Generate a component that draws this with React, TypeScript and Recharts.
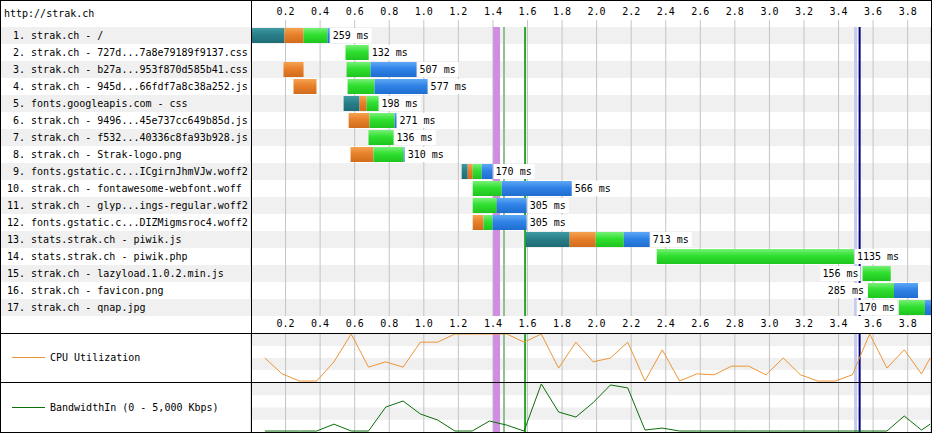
import React from "react";
import {
  Bar,
  CartesianGrid,
  ComposedChart,
  LabelList,
  Line,
  LineChart,
  ReferenceArea,
  ReferenceLine,
  XAxis,
  YAxis,
} from "recharts";

const FONT = "'DejaVu Sans Mono', monospace";
const STRIPE = "#f0f0f0";
const GRID = "#c4c4c4";
const END = 3.935;

const TICKS = [0.2, 0.4, 0.6, 0.8, 1.0, 1.2, 1.4, 1.6, 1.8, 2.0, 2.2, 2.4, 2.6, 2.8, 3.0, 3.2, 3.4, 3.6, 3.8];

const requestLabels = [
  " 1. strak.ch - /",
  " 2. strak.ch - 727d...7a8e79189f9137.css",
  " 3. strak.ch - b27a...953f870d585b41.css",
  " 4. strak.ch - 945d...66fdf7a8c38a252.js",
  " 5. fonts.googleapis.com - css",
  " 6. strak.ch - 9496...45e737cc649b85d.js",
  " 7. strak.ch - f532...40336c8fa93b928.js",
  " 8. strak.ch - Strak-logo.png",
  " 9. fonts.gstatic.c...ICgirnJhmVJw.woff2",
  "10. strak.ch - fontawesome-webfont.woff",
  "11. strak.ch - glyp...ings-regular.woff2",
  "12. fonts.gstatic.c...DIZMigmsroc4.woff2",
  "13. stats.strak.ch - piwik.js",
  "14. stats.strak.ch - piwik.php",
  "15. strak.ch - lazyload.1.0.2.min.js",
  "16. strak.ch - favicon.png",
  "17. strak.ch - qnap.jpg",
];

// seconds; rows without dns/connect repeat the ttfb start
const groupStart = [0, 0.547, 0.188, 0.246, 0.536, 0.565, 0.68, 0.576, 1.219, 1.283, 1.283, 1.283, 1.59, 2.348, 3.539, 3.57, 3.749];
const dnsEnd = [0.194, 0.547, 0.188, 0.246, 0.628, 0.565, 0.68, 0.576, 1.254, 1.283, 1.283, 1.283, 1.844, 2.348, 3.539, 3.57, 3.749];
const connectEnd = [0.304, 0.547, 0.304, 0.379, 0.669, 0.686, 0.68, 0.709, 1.283, 1.283, 1.283, 1.346, 1.995, 2.348, 3.539, 3.57, 3.749];
const ttfbStart = [0.304, 0.547, 0.553, 0.559, 0.669, 0.686, 0.68, 0.709, 1.283, 1.283, 1.283, 1.346, 1.995, 2.348, 3.539, 3.57, 3.749];
const ttfbEnd = [0.443, 0.681, 0.692, 0.715, 0.738, 0.831, 0.825, 0.883, 1.335, 1.451, 1.422, 1.398, 2.157, 3.489, 3.702, 3.721, 3.9];
const downloadEnd = [0.455, 0.681, 0.958, 1.022, 0.738, 0.842, 0.825, 0.889, 1.398, 1.856, 1.595, 1.595, 2.307, 3.489, 3.702, 3.86, 3.935];
const durations = [259, 132, 507, 577, 198, 271, 136, 310, 170, 566, 305, 305, 713, 1135, 156, 285, 170];
const labelLeft = [false, false, false, false, false, false, false, false, false, false, false, false, false, false, true, true, true];

const eventAreas = [
  { from: 1.401, to: 1.441, color: "#d08ee0" },
  { from: 3.49, to: 3.507, color: "#c4caf0" },
];
const eventLines = [
  { at: 1.464, color: "#92c092" },
  { at: 1.586, color: "#28a828" },
  { at: 3.522, color: "#000080" },
];

const sampleTimes = [
  0.08, 0.18, 0.28, 0.38, 0.48, 0.58, 0.68, 0.78, 0.88, 0.98, 1.08, 1.18, 1.28, 1.38, 1.48, 1.58, 1.68, 1.78, 1.88, 1.98,
  2.08, 2.18, 2.28, 2.38, 2.48, 2.58, 2.68, 2.78, 2.88, 2.98, 3.08, 3.18, 3.28, 3.38, 3.48, 3.58, 3.68, 3.78, 3.88, 3.93,
];
const cpuValues = [
  50, 17, 2, 2, 42, 100, 31, 42, 31, 83, 83, 100, 100, 100, 100, 83, 100, 29, 83, 42,
  50, 83, 2, 67, 2, 17, 15, 33, 33, 15, 50, 15, 2, 2, 15, 100, 29, 67, 17, 50,
];
const bandwidthValues = [
  100, 100, 100, 100, 800, 100, 100, 2550, 3160, 1840, 1220, 100, 100, 1120, 700, 100, 4900, 2040, 1530, 3000,
  4800, 4500, 200, 400, 100, 100, 100, 100, 100, 100, 100, 100, 100, 100, 100, 100, 100, 1630, 200, 800,
];

const rows = requestLabels.map((label, i) => ({
  label,
  gap0: groupStart[i],
  dns: dnsEnd[i] - groupStart[i],
  connect: connectEnd[i] - dnsEnd[i],
  gap1: ttfbStart[i] - connectEnd[i],
  ttfb: ttfbEnd[i] - ttfbStart[i],
  download: downloadEnd[i] - ttfbEnd[i],
}));

const cpuData = sampleTimes.map((t, i) => ({ t, v: cpuValues[i] }));
const bwData = sampleTimes.map((t, i) => ({ t, v: bandwidthValues[i] }));

const textStyle = { fontFamily: FONT, fontSize: 10, fill: "#000" };

function RowTick(props: any) {
  const { y, payload, index } = props;
  const half = payload && payload.offset > 0 ? payload.offset : 8.5;
  return (
    <g>
      {index % 2 === 0 && <rect x={1} y={y - half} width={250} height={half * 2} fill={STRIPE} />}
      <text x={7} y={y} dy="0.35em" style={{ whiteSpace: "pre" }} {...textStyle}>
        {payload.value}
      </text>
    </g>
  );
}

function DurationLabel(props: any) {
  const idx = props.index;
  const vb = props.viewBox ?? props;
  const x = Number(vb.x);
  const y = Number(vb.y);
  const w = Number(vb.width);
  const h = Number(vb.height);
  const row = rows[idx];
  if (!row) return null;
  const text = `${durations[idx]} ms`;
  const tw = text.length * 6.02;
  const cy = y + h / 2;
  if (labelLeft[idx]) {
    const end = x - 4;
    return (
      <g>
        <rect x={end - tw - 2} y={y} width={tw + 4} height={h} fill="#fff" />
        <text x={end} y={cy} dy="0.35em" textAnchor="end" {...textStyle}>
          {text}
        </text>
      </g>
    );
  }
  const pxPerSec = w / row.ttfb;
  const barEnd = x + w + row.download * pxPerSec;
  return (
    <g>
      <rect x={barEnd + 1} y={y} width={tw + 5} height={h} fill="#fff" />
      <text x={barEnd + 3} y={cy} dy="0.35em" {...textStyle}>
        {text}
      </text>
    </g>
  );
}

function eventMarks(xAxisId?: string) {
  const axis = xAxisId ? { xAxisId } : {};
  return [
    ...eventAreas.map((e) => (
      <ReferenceArea key={`a${e.from}`} {...axis} x1={e.from} x2={e.to} fill={e.color} fillOpacity={1} stroke="none" zIndex={-60} />
    )),
    ...eventLines.map((e) => (
      <ReferenceLine key={`l${e.at}`} {...axis} x={e.at} stroke={e.color} strokeWidth={2} zIndex={-60} />
    )),
  ];
}

function Gradient({ id, top, mid, bottom }: { id: string; top: string; mid: string; bottom: string }) {
  return (
    <linearGradient id={id} x1="0" y1="0" x2="0" y2="1">
      <stop offset="0%" stopColor={top} />
      <stop offset="45%" stopColor={mid} />
      <stop offset="100%" stopColor={bottom} />
    </linearGradient>
  );
}

function Waterfall() {
  return (
    <ComposedChart
      layout="vertical"
      width={932}
      height={333}
      data={rows}
      margin={{ top: 0, right: 1, bottom: 0, left: 0 }}
      barCategoryGap={1}
    >
      <defs>
        <Gradient id="gDns" top="#3f9aa4" mid="#2a7f89" bottom="#1e6c75" />
        <Gradient id="gConn" top="#f5a352" mid="#e8802a" bottom="#d06c1c" />
        <Gradient id="gTtfb" top="#78f078" mid="#2fe02f" bottom="#1fc41f" />
        <Gradient id="gDl" top="#5ea8f6" mid="#2f82e6" bottom="#1f6ecf" />
      </defs>
      <XAxis
        xAxisId="top"
        orientation="top"
        type="number"
        domain={[0, END]}
        allowDataOverflow
        ticks={TICKS}
        tickFormatter={(v) => Number(v).toFixed(1)}
        height={27}
        tickSize={7}
        tickMargin={5}
        axisLine={false}
        tickLine={{ stroke: GRID }}
        tick={textStyle}
      />
      <XAxis
        xAxisId="bottom"
        orientation="bottom"
        type="number"
        domain={[0, END]}
        allowDataOverflow
        ticks={TICKS}
        tickFormatter={(v) => Number(v).toFixed(1)}
        height={17}
        tickSize={0}
        tickMargin={4}
        axisLine={false}
        tickLine={false}
        tick={textStyle}
      />
      <YAxis type="category" dataKey="label" width={251} interval={0} axisLine={false} tickLine={false} tick={<RowTick />} />
      {requestLabels
        .filter((_, i) => i % 2 === 0)
        .map((l) => (
          <ReferenceArea key={l} xAxisId="top" y1={l} y2={l} fill={STRIPE} fillOpacity={1} stroke="none" zIndex={-150} />
        ))}
      <CartesianGrid xAxisId="top" horizontal={false} stroke={GRID} />
      {eventMarks("top")}
      <Bar xAxisId="top" dataKey="gap0" stackId="w" fill="transparent" barSize={15} isAnimationActive={false} />
      <Bar xAxisId="top" dataKey="dns" stackId="w" fill="url(#gDns)" barSize={15} isAnimationActive={false} />
      <Bar xAxisId="top" dataKey="connect" stackId="w" fill="url(#gConn)" barSize={15} isAnimationActive={false} />
      <Bar xAxisId="top" dataKey="gap1" stackId="w" fill="transparent" barSize={15} isAnimationActive={false} />
      <Bar xAxisId="top" dataKey="ttfb" stackId="w" fill="url(#gTtfb)" barSize={15} isAnimationActive={false}>
        <LabelList dataKey="ttfb" content={DurationLabel} />
      </Bar>
      <Bar xAxisId="top" dataKey="download" stackId="w" fill="url(#gDl)" barSize={15} isAnimationActive={false} />
    </ComposedChart>
  );
}

function Panel({ data, max, color, height }: { data: { t: number; v: number }[]; max: number; color: string; height: number }) {
  return (
    <LineChart width={932} height={height} data={data} margin={{ top: 0, right: 1, bottom: 0, left: 251 }}>
      <XAxis type="number" dataKey="t" domain={[0, END]} ticks={TICKS} allowDataOverflow hide />
      <YAxis type="number" domain={[0, max]} hide />
      <ReferenceArea y1={max * 0.75} y2={max} fill={STRIPE} fillOpacity={1} stroke="none" zIndex={-150} />
      <ReferenceArea y1={max * 0.25} y2={max * 0.5} fill={STRIPE} fillOpacity={1} stroke="none" zIndex={-150} />
      <CartesianGrid horizontal={false} stroke={GRID} />
      {eventMarks()}
      <Line dataKey="v" type="linear" stroke={color} strokeWidth={1} dot={false} activeDot={false} isAnimationActive={false} />
    </LineChart>
  );
}

function Legend({ top, color, text }: { top: number; color: string; text: string }) {
  return (
    <div style={{ position: "absolute", left: 12, top: top - 7, height: 14, display: "flex", alignItems: "center" }}>
      <span style={{ display: "inline-block", width: 33, height: 1, background: color, marginRight: 5 }} />
      <span style={{ fontFamily: FONT, fontSize: 10, color: "#000", whiteSpace: "pre" }}>{text}</span>
    </div>
  );
}

export default function App() {
  return (
    <div style={{ position: "absolute", left: 0, top: 0, width: 932, height: 433, background: "#fff", overflow: "hidden" }}>
      <div style={{ position: "absolute", left: 0, top: 0 }}>
        <Waterfall />
      </div>
      <div style={{ position: "absolute", left: 4, top: 8, fontFamily: FONT, fontSize: 10, color: "#000" }}>http://strak.ch</div>
      <div style={{ position: "absolute", left: 0, top: 334 }}>
        <Panel data={cpuData} max={100} color="#eb9535" height={48} />
      </div>
      <div style={{ position: "absolute", left: 0, top: 383 }}>
        <Panel data={bwData} max={5000} color="#0b6e0b" height={49} />
      </div>
      <Legend top={357} color="#eb9535" text="CPU Utilization" />
      <Legend top={407} color="#0b6e0b" text="BandwidthIn (0 - 5,000 Kbps)" />
      <div style={{ position: "absolute", left: 0, top: 333, width: 932, height: 1, background: "#000" }} />
      <div style={{ position: "absolute", left: 0, top: 382, width: 932, height: 1, background: "#000" }} />
      <div style={{ position: "absolute", left: 251, top: 0, width: 1, height: 433, background: "#000" }} />
      <div style={{ position: "absolute", inset: 0, border: "1px solid #000", boxSizing: "border-box" }} />
    </div>
  );
}
